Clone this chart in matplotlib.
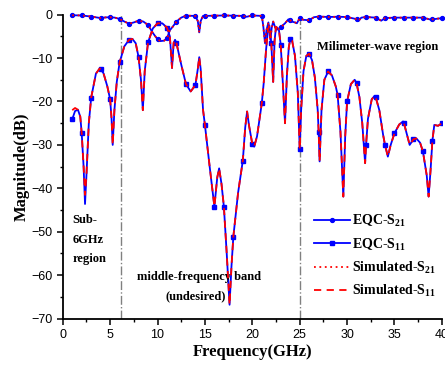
import numpy as np
import matplotlib
matplotlib.use("Agg")
import matplotlib.pyplot as plt

plt.rcParams['font.family'] = ['Liberation Sans', 'DejaVu Sans']
plt.rcParams['mathtext.fontset'] = 'custom'
plt.rcParams['mathtext.bf'] = 'Liberation Serif:bold'
plt.rcParams['mathtext.rm'] = 'Liberation Serif:bold'

# EQC S21, frequency in GHz, magnitude in dB
s21_f = [1.0, 2.0, 3.0, 4.0, 4.5, 5.0, 5.5, 6.0, 6.5, 7.0, 7.5, 8.0, 8.5, 9.0,
         9.5, 10.0, 10.3, 10.7, 11.0, 11.3, 11.6, 12.0, 12.5, 13.0, 14.0, 14.25,
         14.4, 14.55, 14.8, 15.0, 16.0, 17.0, 18.0, 19.0, 19.4, 20.0, 21.0,
         21.15, 21.34, 21.5, 21.7, 21.9, 22.05, 22.2, 22.5, 22.7, 23.0, 23.45,
         23.8, 24.0, 24.15, 24.5, 24.7, 25.0, 25.4, 26.0, 26.5, 27.0, 28.0,
         29.0, 30.0, 30.9, 31.0, 31.2, 31.5, 32.0, 33.0, 33.6, 34.0, 35.0,
         36.0, 37.0, 38.0, 38.9, 39.0, 40.0]
s21_db = [-0.15, -0.2, -0.45, -0.8, -0.65, -0.6, -0.7, -1.0, -1.6, -2.1, -1.8,
          -1.4, -1.6, -2.4, -4.2, -5.7, -6.1, -6.0, -5.4, -3.6, -2.8, -1.6,
          -0.7, -0.25, -0.3, -1.5, -4.1, -1.5, -0.3, -0.3, -0.25, -0.2, -0.25,
          -0.3, -0.5, -0.2, -0.3, -2.5, -6.6, -3.5, -1.8, -5.8, -3.0, -1.6,
          -3.5, -3.4, -2.9, -2.0, -1.1, -1.3, -1.6, -1.8, -2.0, -0.8, -1.2,
          -1.3, -0.6, -0.45, -0.55, -0.5, -0.55, -1.0, -1.1, -1.45, -0.7,
          -0.55, -0.7, -1.4, -0.8, -0.7, -0.7, -0.7, -0.7, -1.2, -1.1, -0.8]

# EQC S11
s11_f = [1.0, 1.3, 1.6, 1.85, 2.0, 2.2, 2.35, 2.5, 2.75, 3.0, 3.5, 3.9, 4.0,
         4.3, 4.7, 5.0, 5.15, 5.27, 5.45, 5.7, 6.0, 6.5, 7.0, 7.35, 7.7, 8.0,
         8.25, 8.45, 8.65, 9.0, 9.5, 10.0, 10.5, 11.0, 11.3, 11.53, 11.7,
         11.85, 12.0, 12.5, 13.0, 13.5, 14.0, 14.25, 14.4, 14.55, 14.8, 15.0,
         15.5, 16.0, 16.3, 16.5, 16.75, 17.0, 17.3, 17.6, 17.8, 18.0, 18.5,
         19.0, 19.25, 19.45, 19.65, 20.0, 20.2, 20.5, 21.0, 21.2, 21.45, 21.65,
         21.8, 22.0, 22.2, 22.35, 22.5, 22.8, 23.0, 23.2, 23.45, 23.65, 23.85,
         24.0, 24.2, 24.5, 24.8, 25.0, 25.15, 25.4, 25.7, 26.0, 26.3, 26.6,
         26.9, 27.0, 27.1, 27.3, 27.6, 28.0, 28.4, 28.8, 29.0, 29.3, 29.6,
         29.8, 30.0, 30.4, 30.8, 31.0, 31.3, 31.6, 31.9, 32.0, 32.2, 32.6,
         32.9, 33.0, 33.4, 33.8, 34.0, 34.3, 34.6, 35.0, 35.5, 35.9, 36.0,
         36.3, 36.6, 37.0, 37.3, 37.7, 38.0, 38.4, 38.6, 38.8, 39.0, 39.2,
         39.6, 40.0]
s11_db = [-24.1, -22.2, -21.9, -23.5, -27.3, -35.0, -43.6, -37.0, -25.0,
          -19.1, -13.6, -12.4, -12.6, -13.5, -16.5, -19.5, -24.0, -30.0, -22.0,
          -15.5, -11.0, -7.3, -5.8, -5.6, -6.6, -9.8, -15.0, -22.0, -13.0,
          -6.4, -3.2, -2.0, -2.0, -3.0, -5.0, -12.3, -6.5, -5.8, -6.6, -11.5,
          -16.0, -17.7, -16.2, -12.5, -9.8, -12.5, -21.9, -25.4, -35.0, -44.2,
          -37.5, -35.4, -39.0, -44.2, -55.0, -66.8, -58.0, -51.1, -41.0, -33.6,
          -26.0, -22.3, -25.5, -29.8, -30.4, -28.0, -20.4, -15.8, -8.1, -3.5,
          -2.5, -6.5, -15.5, -6.0, -2.8, -3.4, -7.0, -15.0, -25.0, -14.0, -7.5,
          -5.7, -6.0, -9.5, -18.0, -31.0, -22.0, -13.0, -9.5, -9.0, -10.5,
          -14.5, -22.0, -27.0, -33.8, -22.0, -15.0, -13.1, -14.0, -16.5, -18.5,
          -27.0, -41.9, -28.0, -20.0, -16.0, -15.0, -15.8, -19.0, -25.0, -34.2,
          -30.0, -24.0, -19.5, -18.7, -18.9, -22.0, -27.7, -30.0, -32.7, -30.0,
          -27.3, -25.3, -24.6, -25.0, -27.5, -30.0, -28.7, -28.5, -29.5, -31.5,
          -37.0, -41.9, -36.0, -29.0, -25.4, -25.6, -25.0]

# simulated curves follow EQC closely; points where they visibly differ
sim_s11_diff = {1.0: -22.0, 1.3: -21.5, 2.35: -41.5}
sim_s21_db = list(s21_db)
sim_s11_db = [sim_s11_diff.get(f, v) for f, v in zip(s11_f, s11_db)]

band_edges = [6.1, 25.0]

s21_f = np.array(s21_f)
s11_f = np.array(s11_f)
mark21 = np.isclose(s21_f, np.round(s21_f))
mark11 = np.isclose(s11_f, np.round(s11_f))

fig = plt.figure(figsize=(4.45, 3.65), dpi=100)
ax = fig.add_axes([0.141, 0.127, 0.852, 0.833])

blue = '#0000ff'
red = '#ff0000'
ax.plot(s21_f, s21_db, color=blue, lw=1.3, marker='o', ms=2.8,
        markevery=list(np.where(mark21)[0]), label=r'EQC-S$_\mathbf{21}$',
        zorder=3, clip_on=False)
ax.plot(s11_f, s11_db, color=blue, lw=1.3, marker='s', ms=2.6,
        markevery=list(np.where(mark11)[0]), label=r'EQC-S$_\mathbf{11}$',
        zorder=3)
ax.plot(s21_f, sim_s21_db, color=red, lw=1.3, ls=(0, (1, 2)),
        label=r'Simulated-S$_\mathbf{21}$', zorder=4, clip_on=False)
ax.plot(s11_f, sim_s11_db, color=red, lw=1.3, ls=(0, (4, 3)),
        label=r'Simulated-S$_\mathbf{11}$', zorder=4)

for xb in band_edges:
    ax.plot([xb, xb], [-70, 0], color='#808080', lw=1.0, ls='-.', zorder=2)

ax.set_xlim(0, 40)
ax.set_ylim(-70, 0)
ax.set_xticks(np.arange(0, 41, 5))
ax.set_xticks(np.arange(0, 41, 2.5), minor=True)
ax.set_yticks(np.arange(-70, 1, 10))
ax.set_yticks(np.arange(-70, 1, 5), minor=True)
ax.tick_params(which='major', direction='out', length=4, width=1.1, labelsize=9)
ax.tick_params(which='minor', direction='out', length=2.5, width=1.0)
for s in ['top', 'right']:
    ax.spines[s].set_visible(False)
for s in ['left', 'bottom']:
    ax.spines[s].set_linewidth(1.3)

serif = dict(family='Liberation Serif', weight='bold')
ax.set_xlabel('Frequency(GHz)', fontsize=12, labelpad=2, **serif)
ax.set_ylabel('Magnitude(dB)', fontsize=12, labelpad=1, **serif)

ax.text(26.8, -7.4, 'Milimeter-wave region', fontsize=9, va='center', **serif)
ax.text(1.05, -45.9, 'Sub-\n6GHz\nregion', fontsize=9, va='top',
        linespacing=1.85, **serif)
ax.text(14.4, -60.3, 'middle-frequency band', fontsize=9, ha='center',
        va='center', **serif)
ax.text(14.06, -64.9, '(undesired)', fontsize=9, ha='center', va='center',
        **serif)

leg = ax.legend(loc='upper left', bbox_to_anchor=(0.662, 0.348), frameon=False,
                prop=dict(family='Liberation Serif', weight='bold', size=10),
                handlelength=2.6, handletextpad=0.15, labelspacing=0.5,
                borderpad=0, borderaxespad=0)

fig.savefig('out.png', dpi=100)
